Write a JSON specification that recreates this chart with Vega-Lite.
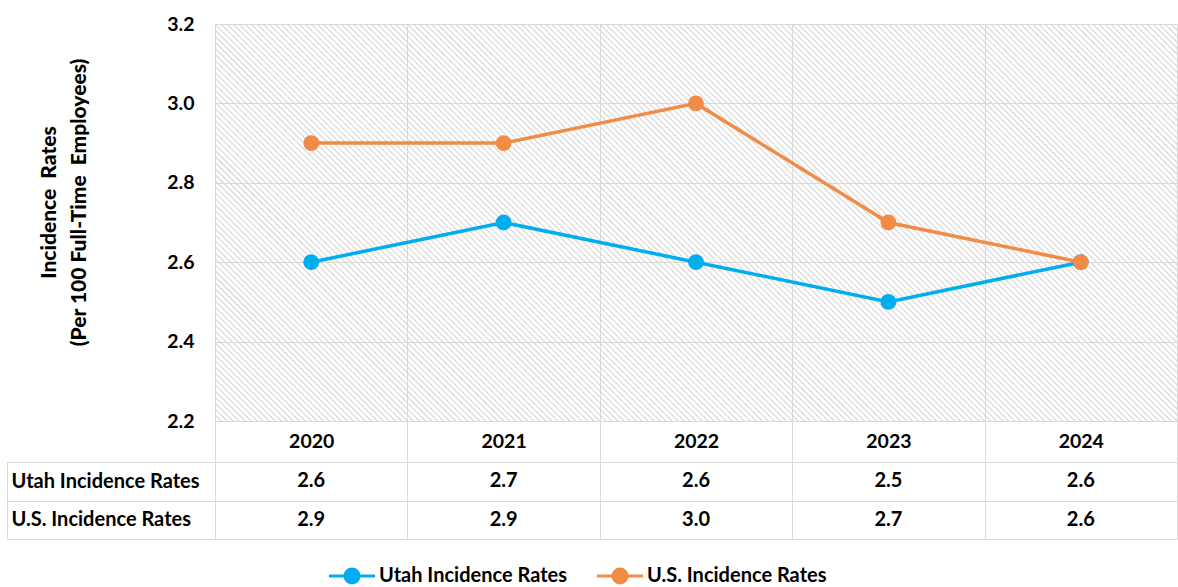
{
  "$schema": "https://vega.github.io/schema/vega-lite/v6.json",
  "padding": {"left": 6, "top": 14, "right": 2, "bottom": 5},
  "background": "white",
  "spacing": -10,
  "data": {"values": [
    {"year": "2020", "series": "Utah Incidence Rates", "rate": 2.6},
    {"year": "2021", "series": "Utah Incidence Rates", "rate": 2.7},
    {"year": "2022", "series": "Utah Incidence Rates", "rate": 2.6},
    {"year": "2023", "series": "Utah Incidence Rates", "rate": 2.5},
    {"year": "2024", "series": "Utah Incidence Rates", "rate": 2.6},
    {"year": "2020", "series": "U.S. Incidence Rates", "rate": 2.9},
    {"year": "2021", "series": "U.S. Incidence Rates", "rate": 2.9},
    {"year": "2022", "series": "U.S. Incidence Rates", "rate": 3.0},
    {"year": "2023", "series": "U.S. Incidence Rates", "rate": 2.7},
    {"year": "2024", "series": "U.S. Incidence Rates", "rate": 2.6}
  ]},
  "config": {
    "font": "Lato",
    "view": {"stroke": null},
    "axis": {"labelFont": "Lato", "titleFont": "Lato", "labelColor": "#000000", "titleColor": "#000000"},
    "legend": {"labelFont": "Lato", "labelColor": "#000000"},
    "text": {"font": "Lato"}
  },
  "vconcat": [
    {
      "width": 962,
      "height": 397,
      "encoding": {
        "x": {
          "field": "year", "type": "ordinal",
          "scale": {"type": "band", "paddingInner": 0, "paddingOuter": 0},
          "axis": {
            "title": null, "tickBand": "extent", "ticks": true, "tickSize": 40, "tickColor": "#d9d9d9", "tickWidth": 1,
            "grid": true, "gridColor": "#d9d9d9", "gridWidth": 1, "domain": false,
            "labelAngle": 0, "labelFontSize": 19.5, "labelFontWeight": "bold", "labelPadding": -20, "labelBaseline": "middle"
          }
        }
      },
      "layer": [
        {
          "transform": [{"filter": {"and": [{"field": "year", "equal": "2022"}, {"field": "series", "equal": "Utah Incidence Rates"}]}}],
          "mark": {
            "type": "point", "clip": true, "filled": false, "opacity": 1, "size": 144.6,
            "stroke": "#d6d6d6", "strokeWidth": 1.1,
            "shape": "M-148,-34l68,68m-67,-68l68,68m-67,-68l68,68m-67,-68l68,68m-67,-68l68,68m-67,-68l68,68m-67,-68l68,68m-67,-68l68,68m-67,-68l68,68m-67,-68l68,68m-67,-68l68,68m-67,-68l68,68m-67,-68l68,68m-67,-68l68,68m-67,-68l68,68m-67,-68l68,68m-67,-68l68,68m-67,-68l68,68m-67,-68l68,68m-67,-68l68,68m-67,-68l68,68m-67,-68l68,68m-67,-68l68,68m-67,-68l68,68m-67,-68l68,68m-67,-68l68,68m-67,-68l68,68m-67,-68l68,68m-67,-68l68,68m-67,-68l68,68m-67,-68l68,68m-67,-68l68,68m-67,-68l68,68m-67,-68l68,68m-67,-68l68,68m-67,-68l68,68m-67,-68l68,68m-67,-68l68,68m-67,-68l68,68m-67,-68l68,68m-67,-68l68,68m-67,-68l68,68m-67,-68l68,68m-67,-68l68,68m-67,-68l68,68m-67,-68l68,68m-67,-68l68,68m-67,-68l68,68m-67,-68l68,68m-67,-68l68,68m-67,-68l68,68m-67,-68l68,68m-67,-68l68,68m-67,-68l68,68m-67,-68l68,68m-67,-68l68,68m-67,-68l68,68m-67,-68l68,68m-67,-68l68,68m-67,-68l68,68m-67,-68l68,68m-67,-68l68,68m-67,-68l68,68m-67,-68l68,68m-67,-68l68,68m-67,-68l68,68m-67,-68l68,68m-67,-68l68,68m-67,-68l68,68m-67,-68l68,68m-67,-68l68,68m-67,-68l68,68m-67,-68l68,68m-67,-68l68,68m-67,-68l68,68m-67,-68l68,68m-67,-68l68,68m-67,-68l68,68m-67,-68l68,68m-67,-68l68,68m-67,-68l68,68m-67,-68l68,68m-67,-68l68,68m-67,-68l68,68m-67,-68l68,68m-67,-68l68,68m-67,-68l68,68m-67,-68l68,68m-67,-68l68,68m-67,-68l68,68m-67,-68l68,68m-67,-68l68,68m-67,-68l68,68m-67,-68l68,68m-67,-68l68,68m-67,-68l68,68m-67,-68l68,68m-67,-68l68,68m-67,-68l68,68m-67,-68l68,68m-67,-68l68,68m-67,-68l68,68m-67,-68l68,68m-67,-68l68,68m-67,-68l68,68m-67,-68l68,68m-67,-68l68,68m-67,-68l68,68m-67,-68l68,68m-67,-68l68,68m-67,-68l68,68m-67,-68l68,68m-67,-68l68,68m-67,-68l68,68m-67,-68l68,68m-67,-68l68,68m-67,-68l68,68m-67,-68l68,68m-67,-68l68,68m-67,-68l68,68m-67,-68l68,68m-67,-68l68,68m-67,-68l68,68m-67,-68l68,68m-67,-68l68,68m-67,-68l68,68m-67,-68l68,68m-67,-68l68,68m-67,-68l68,68m-67,-68l68,68m-67,-68l68,68m-67,-68l68,68m-67,-68l68,68m-67,-68l68,68m-67,-68l68,68m-67,-68l68,68m-67,-68l68,68m-67,-68l68,68m-67,-68l68,68m-67,-68l68,68m-67,-68l68,68m-67,-68l68,68m-67,-68l68,68m-67,-68l68,68m-67,-68l68,68m-67,-68l68,68m-67,-68l68,68m-67,-68l68,68m-67,-68l68,68m-67,-68l68,68m-67,-68l68,68m-67,-68l68,68m-67,-68l68,68m-67,-68l68,68m-67,-68l68,68m-67,-68l68,68m-67,-68l68,68m-67,-68l68,68m-67,-68l68,68m-67,-68l68,68m-67,-68l68,68m-67,-68l68,68m-67,-68l68,68m-67,-68l68,68m-67,-68l68,68m-67,-68l68,68m-67,-68l68,68m-67,-68l68,68m-67,-68l68,68m-67,-68l68,68m-67,-68l68,68m-67,-68l68,68m-67,-68l68,68m-67,-68l68,68m-67,-68l68,68m-67,-68l68,68m-67,-68l68,68m-67,-68l68,68m-67,-68l68,68m-67,-68l68,68m-67,-68l68,68m-67,-68l68,68m-67,-68l68,68m-67,-68l68,68m-67,-68l68,68m-67,-68l68,68m-67,-68l68,68m-67,-68l68,68m-67,-68l68,68m-67,-68l68,68m-67,-68l68,68m-67,-68l68,68m-67,-68l68,68m-67,-68l68,68m-67,-68l68,68m-67,-68l68,68m-67,-68l68,68m-67,-68l68,68m-67,-68l68,68m-67,-68l68,68m-67,-68l68,68m-67,-68l68,68m-67,-68l68,68m-67,-68l68,68m-67,-68l68,68m-67,-68l68,68m-67,-68l68,68m-67,-68l68,68m-67,-68l68,68m-67,-68l68,68m-67,-68l68,68m-67,-68l68,68m-67,-68l68,68m-67,-68l68,68m-67,-68l68,68m-67,-68l68,68m-67,-68l68,68m-67,-68l68,68m-67,-68l68,68m-67,-68l68,68m-67,-68l68,68m-67,-68l68,68m-67,-68l68,68m-67,-68l68,68m-67,-68l68,68m-67,-68l68,68m-67,-68l68,68m-67,-68l68,68"
          },
          "encoding": {"y": {"datum": 2.7, "type": "quantitative"}}
        },
        {
          "mark": {"type": "line", "strokeWidth": 3.5},
          "encoding": {
            "y": {
              "field": "rate", "type": "quantitative",
              "scale": {"domain": [2.2, 3.2], "nice": false, "zero": false},
              "axis": {
                "values": [2.2, 2.4, 2.6, 2.8, 3.0, 3.2], "format": ".1f",
                "labelFontSize": 19.5, "labelFontWeight": "bold", "labelPadding": 21,
                "ticks": false, "domain": false, "grid": true, "gridColor": "#d9d9d9",
                "title": ["Incidence\u00a0\u00a0Rates", "(Per 100 Full-Time\u00a0\u00a0Employees)"],
                "titleFontSize": 21, "titleFontWeight": 900, "titleLineHeight": 30, "titlePadding": 77, "titleY": 178
              }
            },
            "color": {
              "field": "series", "type": "nominal",
              "scale": {"domain": ["Utah Incidence Rates", "U.S. Incidence Rates"], "range": ["#00AEEF", "#F08C45"]},
              "legend": {
                "title": null, "orient": "none", "legendX": 127, "legendY": 542, "direction": "horizontal",
                "labelFontSize": 20, "labelFontWeight": "bold", "labelLimit": 400,
                "symbolType": "M-3.3,0H3.3M1,0A1,1,0,1,1,-1,0A1,1,0,1,1,1,0Z",
                "symbolSize": 196, "symbolStrokeWidth": 3, "labelOffset": 17, "columnPadding": 23
              }
            }
          }
        },
        {
          "mark": {"type": "point", "filled": true, "opacity": 1, "size": 250},
          "encoding": {
            "y": {"field": "rate", "type": "quantitative"},
            "color": {"field": "series", "type": "nominal"}
          }
        }
      ]
    },
    {
      "width": 962,
      "height": 77,
      "mark": {"type": "text", "fontSize": 20, "fontWeight": "bold", "color": "#000000", "baseline": "middle"},
      "encoding": {
        "x": {
          "field": "year", "type": "ordinal",
          "scale": {"type": "band", "paddingInner": 0, "paddingOuter": 0},
          "axis": {"title": null, "labels": false, "ticks": false, "domain": false, "grid": true, "tickBand": "extent", "gridColor": "#d9d9d9"}
        },
        "y": {
          "field": "series", "type": "nominal", "sort": ["Utah Incidence Rates", "U.S. Incidence Rates"],
          "scale": {"type": "band", "paddingInner": 0, "paddingOuter": 0},
          "axis": {
            "title": null, "offset": 208, "domain": true, "domainColor": "#d9d9d9", "ticks": true, "tickBand": "extent",
            "tickSize": -1170, "tickColor": "#d9d9d9", "grid": false,
            "labelAlign": "left", "labelPadding": 1166, "labelLimit": 300, "labelFontSize": 20, "labelFontWeight": "bold"
          }
        },
        "text": {"field": "rate", "type": "quantitative", "format": ".1f"}
      }
    }
  ]
}
